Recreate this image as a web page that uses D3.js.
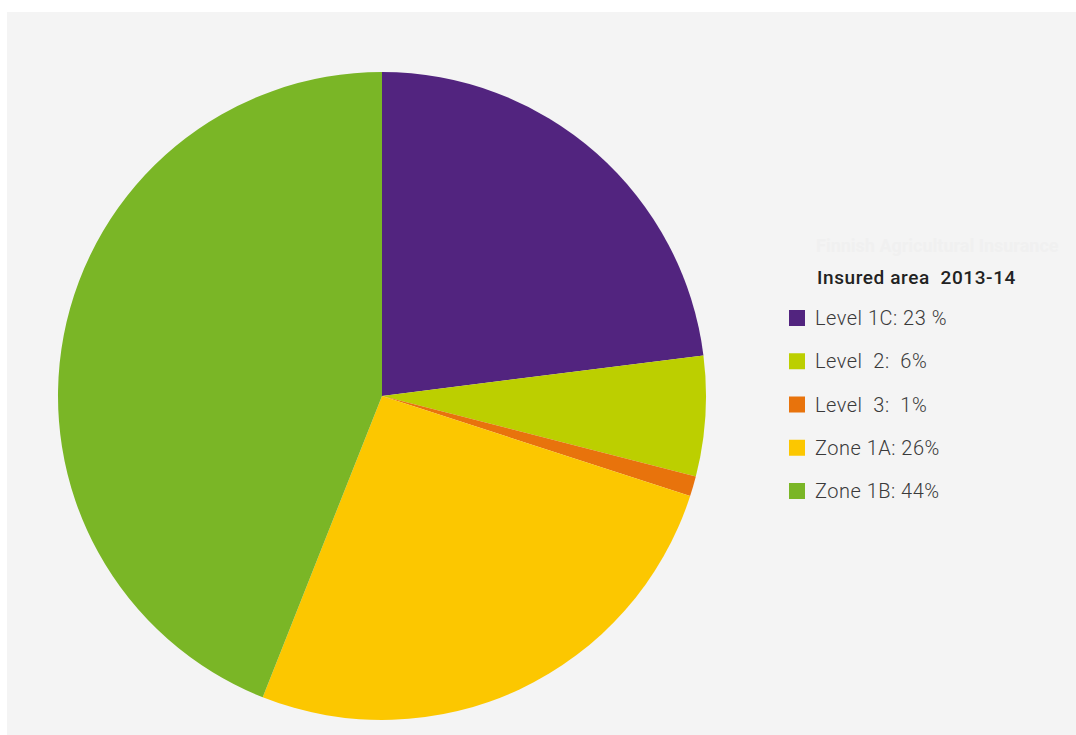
<!DOCTYPE html>
<html>
<head>
<meta charset="utf-8">
<script src="https://cdn.jsdelivr.net/npm/d3@7"></script>
<style>
  body { margin: 0; background: #fff; }
  svg { display: block; }
</style>
</head>
<body>
<svg id="chart"></svg>
<script>
// Chart data
const categories = ["Level 1C", "Level 2", "Level 3", "Zone 1A", "Zone 1B"];
const values = [23, 6, 1, 26, 44];
const labels = ["Level 1C: 23 %", "Level  2:  6%", "Level  3:  1%", "Zone 1A: 26%", "Zone 1B: 44%"];
const colors = ["#52247f", "#bccf00", "#e8730c", "#fcc700", "#7ab626"];
const legendTitle = "Insured area  2013-14";
const ghostText = "Finnish Agricultural Insurance";

const width = 1076, height = 735;
const svg = d3.select("#chart").attr("width", width).attr("height", height);

// gray panel
svg.append("rect")
    .attr("x", 7).attr("y", 12)
    .attr("width", width - 7).attr("height", height - 12)
    .attr("fill", "#f4f4f4");

// Pie
const cx = 382, cy = 396, radius = 324;
const pie = d3.pie().sort(null).value(d => d);
const arc = d3.arc().innerRadius(0).outerRadius(radius);

const g = svg.append("g").attr("transform", `translate(${cx},${cy})`);
g.selectAll("path")
    .data(pie(values))
    .enter()
    .append("path")
    .attr("d", arc)
    .attr("fill", (d, i) => colors[i]);

// Legend
const legend = svg.append("g").attr("transform", "translate(789,0)");

// faint watermark-like line above the legend title
legend.append("text")
    .attr("x", 27).attr("y", 252)
    .attr("font-family", "Roboto, sans-serif")
    .attr("font-size", 18)
    .attr("font-weight", 700)
    .attr("fill", "#f0f0f0")
    .text(ghostText);

legend.append("text")
    .attr("x", 28).attr("y", 284)
    .attr("font-family", "Roboto, sans-serif")
    .attr("font-size", 19)
    .attr("font-weight", 500)
    .attr("letter-spacing", 0.6)
    .attr("fill", "#222")
    .style("white-space", "pre")
    .text(legendTitle);

const y = d3.scalePoint().domain(categories).range([318, 491]);

const items = legend.selectAll("g.item")
    .data(categories)
    .enter()
    .append("g")
    .attr("class", "item")
    .attr("transform", d => `translate(0,${y(d)})`);

items.append("rect")
    .attr("x", 0).attr("y", -8)
    .attr("width", 16).attr("height", 16)
    .attr("fill", (d, i) => colors[i]);

items.append("text")
    .attr("x", 26).attr("y", 7)
    .attr("font-family", "Roboto, sans-serif")
    .attr("font-size", 20)
    .attr("font-weight", 300)
    .attr("letter-spacing", 0.5)
    .attr("fill", "#3a3a3a")
    .style("white-space", "pre")
    .text((d, i) => labels[i]);
</script>
</body>
</html>
